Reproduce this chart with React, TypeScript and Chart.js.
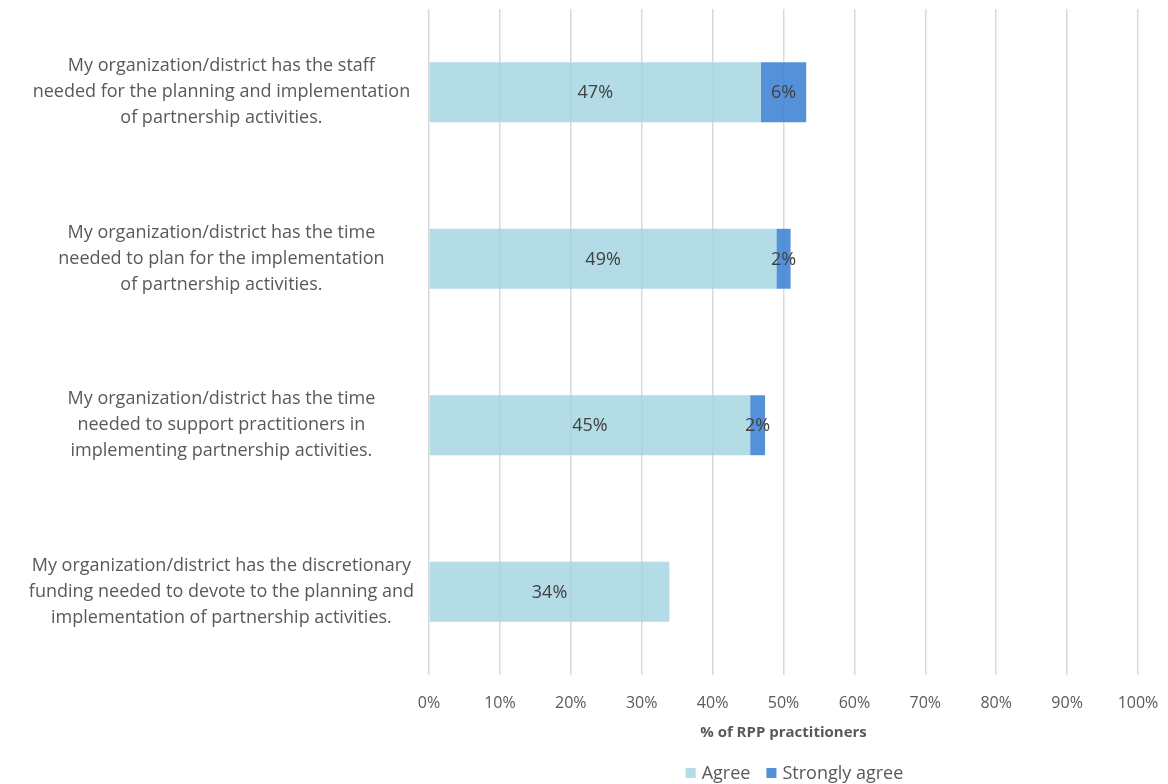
import React, { useEffect, useRef } from "react";
import { Chart, registerables } from "chart.js";

Chart.register(...registerables);

const categories: string[][] = [
  ["My organization/district has the staff", "needed for the planning and implementation", "of partnership activities."],
  ["My organization/district has the time", "needed to plan for the implementation", "of partnership activities."],
  ["My organization/district has the time", "needed to support practitioners in", "implementing partnership activities."],
  ["My organization/district has the discretionary", "funding needed to devote to the planning and", "implementation of partnership activities."],
];
const agree: number[] = [46.8, 49.0, 45.3, 33.9];
const stronglyAgree: number[] = [6.4, 2.0, 2.1, 0];
const seriesNames: string[] = ["Agree", "Strongly agree"];
const xTicks: number[] = [0, 10, 20, 30, 40, 50, 60, 70, 80, 90, 100];
const axisTitle = "% of RPP practitioners";

const FONT = "'Open Sans', 'DejaVu Sans', sans-serif";
const COLORS = ["rgba(160,211,225,0.8)", "rgba(60,130,212,0.88)"];
const SWATCH = ["#b3dce7", "#5291d9"];

const valueLabels = {
  id: "valueLabels",
  afterDatasetsDraw(chart: any) {
    const ctx = chart.ctx;
    ctx.save();
    ctx.font = `18px ${FONT}`;
    ctx.fillStyle = "#404040";
    ctx.textAlign = "center";
    ctx.textBaseline = "middle";
    chart.data.datasets.forEach((ds: any, i: number) => {
      const meta = chart.getDatasetMeta(i);
      meta.data.forEach((el: any, j: number) => {
        const v = ds.data[j];
        if (!v) return;
        const p = el.getProps(["x", "y", "base"], true);
        ctx.fillText(`${Math.round(v)}%`, (p.x + p.base) / 2, p.y + 1);
      });
    });
    ctx.restore();
  },
};

const customLegend = {
  id: "customLegend",
  afterDraw(chart: any) {
    const ctx = chart.ctx;
    const area = chart.chartArea;
    ctx.save();
    ctx.font = `18px ${FONT}`;
    ctx.textBaseline = "middle";
    ctx.textAlign = "left";
    const box = 10;
    const gapBoxText = 6;
    const gapItems = 16;
    const names = chart.data.datasets.map((d: any) => d.label);
    const widths = names.map((n: string) => box + gapBoxText + ctx.measureText(n).width);
    const total = widths.reduce((a: number, b: number) => a + b, 0) + gapItems * (names.length - 1);
    const cx = (area.left + area.right) / 2 + 11;
    const y = 773;
    let x = cx - total / 2;
    names.forEach((n: string, i: number) => {
      ctx.fillStyle = SWATCH[i];
      ctx.fillRect(x, y - box / 2, box, box);
      ctx.fillStyle = "#595959";
      ctx.fillText(n, x + box + gapBoxText, y + 1);
      x += widths[i] + gapItems;
    });
    ctx.restore();
  },
};

export default function App() {
  const ref = useRef<HTMLCanvasElement | null>(null);
  useEffect(() => {
    document.body.style.margin = "0";
    if (!ref.current) return;
    const chart = new Chart(ref.current, {
      type: "bar",
      data: {
        labels: categories,
        datasets: [
          { label: seriesNames[0], data: agree, backgroundColor: COLORS[0], categoryPercentage: 1, barPercentage: 0.36 },
          { label: seriesNames[1], data: stronglyAgree, backgroundColor: COLORS[1], categoryPercentage: 1, barPercentage: 0.36 },
        ],
      },
      options: {
        indexAxis: "y",
        animation: false,
        responsive: false,
        maintainAspectRatio: false,
        layout: { padding: { top: 9, right: 30, left: 0, bottom: 39 } },
        plugins: {
          legend: { display: false },
          tooltip: { enabled: false },
        },
        scales: {
          x: {
            stacked: true,
            min: 0,
            max: 100,
            afterBuildTicks: (scale: any) => {
              scale.ticks = xTicks.map((v) => ({ value: v }));
            },
            afterFit: (scale: any) => {
              scale.height = 70;
              scale.paddingLeft = 0;
              scale.paddingRight = 0;
            },
            ticks: {
              callback: (v: any) => `${v}%`,
              color: "#595959",
              font: { family: FONT, size: 16 },
              padding: 19,
              maxRotation: 0,
            },
            grid: { color: "#d9d9d9", lineWidth: 1.5, drawTicks: false },
            border: { display: false },
            title: {
              display: true,
              text: axisTitle,
              color: "#595959",
              font: { family: FONT, size: 15, weight: "bold" },
              padding: { top: 4, bottom: 3 },
            },
          },
          y: {
            stacked: true,
            afterFit: (scale: any) => {
              scale.width = 429;
              scale.paddingTop = 0;
              scale.paddingBottom = 0;
            },
            ticks: {
              color: "#595959",
              crossAlign: "center",
              padding: 15,
              font: { family: FONT, size: 18, lineHeight: 1.45 },
            },
            grid: { display: false, drawTicks: false },
            border: { display: false },
          },
        },
      },
      plugins: [valueLabels, customLegend],
    } as any);
    return () => chart.destroy();
  }, []);
  return <canvas ref={ref} width={1168} height={784} style={{ display: "block" }} />;
}
